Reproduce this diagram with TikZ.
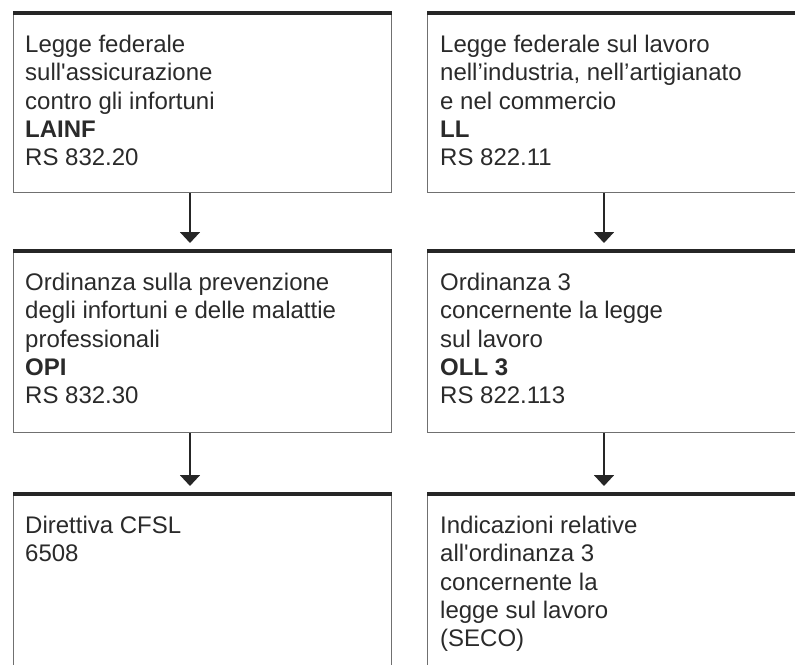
\documentclass[tikz,border=0pt]{standalone}
\usepackage{fontspec}
\setmainfont{Liberation Sans}[Ligatures=TeXOff]
\usetikzlibrary{arrows.meta,calc}
\definecolor{ink}{HTML}{262626}
\definecolor{edge}{HTML}{707070}
\definecolor{txtc}{HTML}{2A2A2A}
\tikzset{
  boxshape/.style={draw=edge, line width=1.1pt, rectangle, inner sep=0pt, anchor=north west},
  topline/.style={draw=ink, line width=4pt},
  txt/.style={anchor=north west, inner sep=0pt, align=left, text=txtc,
    font=\fontsize{24}{28.3}\selectfont},
  arr/.style={draw=ink, line width=1.9pt, -{Triangle[width=20pt,length=11pt]}, shorten >=8pt}
}
\begin{document}
\begin{tikzpicture}[x=1pt,y=-1pt]
\useasboundingbox (0,0) rectangle (795,664);
\clip (0,0) rectangle (795,664);
% left column
\node[boxshape, minimum width=378pt, minimum height=179pt] (l1) at (13,13) {};
\node[boxshape, minimum width=378pt, minimum height=181pt] (l2) at (13,251) {};
\node[boxshape, minimum width=378pt, minimum height=200pt] (l3) at (13,494) {};
% right column
\node[boxshape, minimum width=390pt, minimum height=179pt] (r1) at (427,13) {};
\node[boxshape, minimum width=390pt, minimum height=181pt] (r2) at (427,251) {};
\node[boxshape, minimum width=390pt, minimum height=200pt] (r3) at (427,494) {};
% thick top rules
\foreach \b in {l1,l2,l3,r1,r2,r3}{
  \draw[topline] (\b.north west) -- (\b.north east);
}
% texts
\node[txt] (tl1) at ($(l1.north west)+(12,22)$) {Legge federale\\sull'assicurazione\\contro gli infortuni\\\textbf{LAINF}\\RS 832.20};
\node[txt] (tl2) at ($(l2.north west)+(12,22)$) {Ordinanza sulla prevenzione\\degli infortuni e delle malattie\\professionali\\\textbf{OPI}\\RS 832.30};
\node[txt] (tl3) at ($(l3.north west)+(12,22)$) {Direttiva CFSL\\6508};
\node[txt] (tr1) at ($(r1.north west)+(13,22)$) {Legge federale sul lavoro\\nell’industria, nell’artigianato\\e nel commercio\\\textbf{LL}\\RS 822.11};
\node[txt] (tr2) at ($(r2.north west)+(13,22)$) {Ordinanza 3\\concernente la legge\\sul lavoro\\\textbf{OLL 3}\\RS 822.113};
\node[txt] (tr3) at ($(r3.north west)+(13,22)$) {Indicazioni relative\\all'ordinanza 3\\concernente la\\legge sul lavoro\\(SECO)};
% arrow columns
\coordinate (axl) at (190,0);
\coordinate (axr) at (604,0);
\draw[arr] (l1.south -| axl) -- (l2.north -| axl);
\draw[arr] (l2.south -| axl) -- (l3.north -| axl);
\draw[arr] (r1.south -| axr) -- (r2.north -| axr);
\draw[arr] (r2.south -| axr) -- (r3.north -| axr);
\end{tikzpicture}
\end{document}
